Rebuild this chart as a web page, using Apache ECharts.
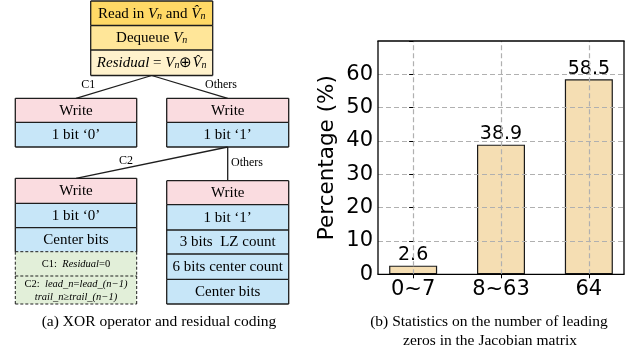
<!DOCTYPE html>
<html><head><meta charset="utf-8">
<script src="https://cdn.jsdelivr.net/npm/echarts@6/dist/echarts.min.js"></script>
<style>html,body{margin:0;padding:0;background:#fff}#c{width:634px;height:356px}</style>
</head><body><div id="c"></div>
<script>
// ---------- chart data ----------
const categories = ['0~7', '8~63', '64'];
const percentages = [2.6, 38.9, 58.5];
const categoryPositions = [0, 1, 2];
const yTickValues = [0, 10, 20, 30, 40, 50, 60];
const yAxisName = 'Percentage (%)';
const captionA = '(a) XOR operator and residual coding';
const captionB = ['(b) Statistics on the number of leading', 'zeros in the Jacobian matrix'];

// ---------- diagram texts ----------
const headRows = ['Read in {i|V}{s|n} and {i|V\u0302}{s|n}', 'Dequeue {i|V}{s|n}', '{m|Residual} = {i|V}{s|n}\u2295{i|V\u0302}{s|n}'];
const leftRows2 = ['Write', '1 bit \u20180\u2019'];
const rightRows2 = ['Write', '1 bit \u20181\u2019'];
const leftRows3 = ['Write', '1 bit \u20180\u2019', 'Center bits', '{t|C1:  }{ti|Residual}{t|=0}', '{t|C2:  }{ti|lead_n}{t|=}{ti|lead_(n\u22121)}\n{ti|trail_n\u2265trail_(n\u22121)}'];
const rightRows3 = ['Write', '1 bit \u20181\u2019', '3 bits  LZ count', '6 bits center count', 'Center bits'];
const branchLabels = ['C1', 'Others', 'C2', 'Others'];

const SERIF = '"Liberation Serif", serif';
const SANS = '"DejaVu Sans", sans-serif';
const C_GOLD1 = '#ffd966', C_GOLD2 = '#ffe699', C_GOLD3 = '#fff2cc';
const C_PINK = '#fadce0', C_BLUE = '#c7e6f8', C_GREEN = '#e2efd9';
const rich = {
  i: {fontFamily: SERIF, fontStyle: 'italic', fontSize: 15, fill: '#000', color: '#000'},
  m: {fontFamily: SERIF, fontStyle: 'italic', fontSize: 15, fill: '#000', color: '#000'},
  s: {fontFamily: SERIF, fontStyle: 'italic', fontSize: 10, fill: '#000', color: '#000', verticalAlign: 'bottom', lineHeight: 12},
  t: {fontFamily: SERIF, fontSize: 10.5, fill: '#000', color: '#000', lineHeight: 13},
  ti: {fontFamily: SERIF, fontStyle: 'italic', fontSize: 10.5, fill: '#000', color: '#000', lineHeight: 13}
};

function L(x1, y1, x2, y2, dashed, w, color, z) {
  return {type: 'line', z: z || 20, shape: {x1, y1, x2, y2},
    style: {stroke: color || '#1e1e1e', lineWidth: w || (dashed ? 1 : 1.3), lineDash: dashed ? [3, 2] : null}};
}
function rowsBox(x, w, ys, texts, fills, dashedIdx) {
  const els = [];
  texts.forEach((t, k) => {
    els.push({type: 'rect', z: 10, shape: {x, y: ys[k], width: w, height: ys[k + 1] - ys[k]}, style: {fill: fills[k]}});
    els.push({type: 'text', z: 30, style: {text: t, rich, x: x + w / 2, y: (ys[k] + ys[k + 1]) / 2 + 0.5,
      align: 'center', verticalAlign: 'middle', font: '15px ' + SERIF, fill: '#000'}});
  });
  const d = k => dashedIdx.indexOf(k) >= 0;
  els.push(L(x, ys[0], x + w, ys[0], d(0)));
  texts.forEach((t, k) => {
    els.push(L(x, ys[k], x, ys[k + 1], d(k)));
    els.push(L(x + w, ys[k], x + w, ys[k + 1], d(k)));
    els.push(L(x, ys[k + 1], x + w, ys[k + 1], d(k) || d(k + 1)));
  });
  return els;
}
function label(text, x, y, size, family) {
  return {type: 'text', z: 30, style: {text, x, y, align: 'center', verticalAlign: 'middle',
    font: size + 'px ' + (family || SERIF), fill: '#000'}};
}

const XL = 15.3, XR = 166.7, WL = 121.4, WR = 122;
const GRID = {left: 378, top: 41, width: 246, height: 233.3};
const GR = GRID.left + GRID.width, GB = GRID.top + GRID.height;
const graphics = [].concat(
  rowsBox(90.7, 122, [1, 25.5, 50, 75.5], headRows, [C_GOLD1, C_GOLD2, C_GOLD3], []),
  rowsBox(XL, WL, [98.3, 122.3, 147], leftRows2, [C_PINK, C_BLUE], []),
  rowsBox(XR, WR, [98.3, 122.3, 147], rightRows2, [C_PINK, C_BLUE], []),
  rowsBox(XL, WL, [178.3, 203.3, 227.7, 251.7, 276, 304], leftRows3, [C_PINK, C_BLUE, C_BLUE, C_GREEN, C_GREEN], [3, 4]),
  rowsBox(XR, WR, [180.7, 204.7, 230, 254, 279.3, 304], rightRows3, [C_PINK, C_BLUE, C_BLUE, C_BLUE, C_BLUE], []),
  [
    L(151.7, 75.5, 76, 98.3, false, 1.3),
    L(151.7, 75.5, 227.7, 98.3, false, 1.3),
    L(227.7, 147, 76, 178.3, false, 1.3),
    L(227.7, 147, 227.7, 180.7, false, 1.3),
    label(branchLabels[0], 88.3, 85, 12),
    label(branchLabels[1], 221, 85, 12),
    label(branchLabels[2], 126, 160.5, 12),
    label(branchLabels[3], 247, 163, 12),
    label(captionA, 159, 322, 15.5),
    label(captionB[0], 489, 322, 15.5),
    label(captionB[1], 490, 341, 15.5),
    L(GRID.left - 0.6, GRID.top, GR + 0.6, GRID.top, false, 1.3, '#000', 500),
    L(GR, GRID.top, GR, GB, false, 1.3, '#000', 500),
    L(GRID.left, GRID.top, GRID.left, GB, false, 1.3, '#000', 500),
    L(GRID.left - 0.6, GB, GR + 0.6, GB, false, 1.3, '#000', 500)
  ]
);

const gridLineStyle = {color: '#b0b0b0', type: [5, 3], width: 1.2};

const chart = echarts.init(document.getElementById('c'), null, {renderer: 'canvas'});
chart.setOption({
  animation: false,
  graphic: {elements: graphics},
  grid: Object.assign({show: false}, GRID),
  xAxis: {
    type: 'value', min: -0.4, max: 2.4, z: 3,
    axisLine: {show: false},
    axisTick: {show: true, length: 4, customValues: categoryPositions, lineStyle: {color: '#000', width: 1}},
    axisLabel: {fontSize: 21, color: '#000', fontFamily: SANS, margin: 5, customValues: categoryPositions,
      formatter: v => categories[Math.round(v)]},
    splitLine: {show: false}
  },
  yAxis: {
    type: 'value', min: 0, max: 70, interval: 10, z: 3,
    axisLine: {show: false},
    axisTick: {show: true, length: 4, lineStyle: {color: '#000', width: 1}},
    axisLabel: {fontSize: 21, color: '#000', fontFamily: SANS, margin: 5,
      formatter: v => yTickValues.indexOf(v) >= 0 ? String(v) : ''},
    splitLine: {show: true, showMinLine: false, showMaxLine: false, lineStyle: gridLineStyle},
    name: yAxisName, nameLocation: 'middle', nameGap: 40, nameRotate: 90,
    nameTextStyle: {fontSize: 21.5, color: '#000', fontFamily: SANS}
  },
  series: [{
    type: 'bar', z: 2,
    data: percentages.map((v, i) => [categoryPositions[i], v]),
    barWidth: 48,
    itemStyle: {color: '#f5deb3', borderColor: '#1a1a1a', borderWidth: 1.2},
    label: {show: true, position: 'top', distance: 1, fontSize: 19, color: '#000', fontFamily: SANS,
      formatter: p => String(p.value[1])},
    markLine: {
      silent: true, symbol: 'none', label: {show: false}, lineStyle: gridLineStyle, z: 3,
      data: categoryPositions.map(x => ({xAxis: x}))
    }
  }]
});
</script>
</body></html>
